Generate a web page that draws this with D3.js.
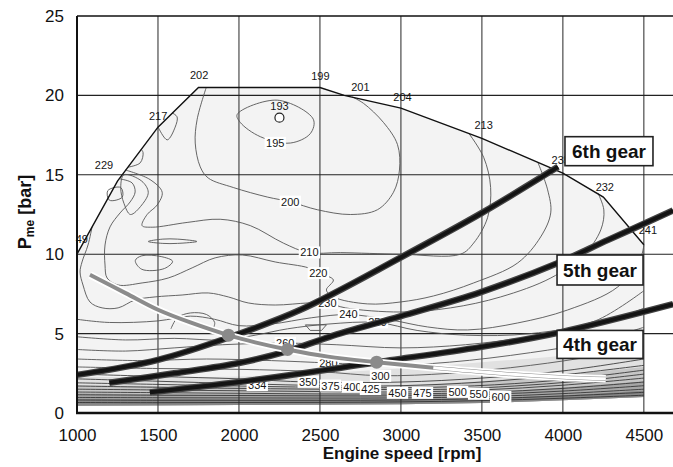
<!DOCTYPE html>
<html>
<head>
<meta charset="utf-8">
<script src="https://cdn.jsdelivr.net/npm/d3@7"></script>
<style>
  body { margin: 0; background: #fff; }
  svg { display: block; font-family: "Liberation Sans", Arial, sans-serif; }
</style>
</head>
<body>
<svg id="chart" width="673" height="467"></svg>
<script>
// ticks
const rpmTicks = [1000, 1500, 2000, 2500, 3000, 3500, 4000, 4500]
const pmeTicks = [0, 5, 10, 15, 20, 25]

// full load curve and lower edge of the measured map  [rpm, bar]
const fullLoad = [[1000,10.0],[1250,14.6],[1500,18.0],[1750,20.5],[2500,20.5],[2650,20.0],[3000,19.2],[3500,17.3],[4000,15.1],[4250,13.6],[4500,10.6]]
const mapBottom = [[1000,0.45],[2000,0.5],[3000,0.55],[3600,0.65],[4000,0.8],[4500,1.0]]

// grey shading of the low load area (upper edges)
const bandA = [[1000,2.3],[1500,2.25],[2000,2.3],[2500,2.5],[3000,2.8],[3500,3.2],[4000,3.6],[4500,4.2]]
const bandB = [[1000,1.75],[1500,1.7],[2000,1.65],[2500,1.65],[3000,1.75],[3500,2.0],[4000,2.4],[4500,2.9]]
const bandC = [[1000,1.25],[1500,1.2],[2000,1.18],[2500,1.15],[3000,1.18],[3500,1.3],[4000,1.6],[4500,2.0]]
const bandD = [[1000,0.9],[1500,0.88],[2000,0.87],[2500,0.86],[3000,0.88],[3500,0.95],[4000,1.12],[4500,1.4]]

// bsfc iso lines [rpm, bar]
const c195 = [[1989,18.8],[2237,19.7],[2459,18.5],[2441,17.6],[2317,17.0],[2132,17.4],[2008,18.3]]
const c200 = [[1798,20.5],[1742,18.5],[1730,17.0],[1761,15.5],[1810,14.8],[1965,14.2],[2175,13.6],[2317,13.3],[2484,12.8],[2688,12.5],[2855,12.8],[2954,13.9],[2991,15.3],[2979,16.9],[2892,18.3],[2769,19.5],[2700,19.9]]
const c210 = [[1300,15.3],[1451,14.7],[1526,13.9],[1495,13.1],[1433,12.5],[1402,11.8],[1464,11.7],[1680,12.0],[1884,12.2],[2070,11.8],[2274,10.7],[2428,10.1],[2626,10.1],[2997,10.0],[3368,10.0],[3449,10.7],[3535,12.3],[3554,14.2],[3511,16.1],[3420,17.6]]
const c220 = [[1266,14.74],[1340,14.49],[1359,13.92],[1328,13.29],[1266,12.6],[1204,11.72],[1173,10.58],[1173,9.32],[1186,8.5],[1254,8.06],[1402,8.19],[1563,8.5],[1711,9.14],[1853,9.77],[2020,9.95],[2224,9.51],[2429,9.14],[2490,8.82],[2583,8.38],[2540,7.75],[2583,7.31],[2793,6.87],[2997,6.99],[3201,7.37],[3449,8.19],[3721,9.45],[3863,11.09],[3925,12.6],[3906,14.05],[3845,15.8]]
const c230 = [[1093,11.72],[1068,10.58],[1031,9.51],[1019,8.88],[1037,8.06],[1080,6.99],[1155,6.62],[1254,6.62],[1359,7.12],[1482,7.31],[1649,7.43],[1810,7.56],[1934,7.31],[2057,6.93],[2224,6.8],[2429,6.93],[2546,6.93],[2657,6.62],[2997,6.36],[3307,6.62],[3616,7.31],[3925,8.5],[4129,9.95],[4234,11.53],[4253,12.79],[4216,13.86]]
const c240 = [[1000,5.9],[1200,5.7],[1500,5.8],[1700,6.1],[1850,5.9],[2000,5.5],[2200,5.6],[2450,6.0],[2676,6.2],[2936,5.86],[3164,5.42],[3412,5.23],[3721,5.67],[4030,6.49],[4339,7.94],[4482,9.83],[4500,10.6]]
const c250 = [[1000,4.8],[1300,4.6],[1600,4.7],[1900,4.6],[2100,4.9],[2300,5.3],[2550,5.6],[2855,5.7],[3100,5.2],[3400,4.9],[3800,5.0],[4200,5.8],[4500,7.7]]
const c260 = [[1000,4.0],[1300,3.9],[1600,4.1],[1900,4.3],[2286,4.4],[2600,4.3],[3000,4.1],[3400,4.3],[3800,4.8],[4200,5.5],[4500,6.6]]
const c280 = [[1000,3.4],[1400,3.3],[1800,3.4],[2200,3.3],[2552,3.15],[2900,3.0],[3300,3.2],[3800,3.8],[4200,4.5],[4500,5.4]]
const c300 = [[1000,2.9],[1500,2.8],[2000,2.75],[2500,2.6],[2874,2.35],[3300,2.5],[3800,3.0],[4200,3.6],[4500,4.2]]
const l350 = [[1000,2.45],[1500,2.3],[2000,2.15],[2428,1.95],[3000,1.95],[3500,2.2],[4000,2.65],[4500,3.4]]
const l375 = [[1000,2.15],[1500,2.0],[2000,1.85],[2565,1.72],[3000,1.72],[3500,1.95],[4000,2.4],[4500,3.0]]
const l400 = [[1000,1.9],[1500,1.8],[2000,1.7],[2700,1.6],[3200,1.62],[3700,1.85],[4100,2.2],[4500,2.7]]
const l425 = [[1000,1.7],[1500,1.62],[2000,1.55],[2812,1.48],[3300,1.5],[3700,1.7],[4100,2.0],[4500,2.45]]
const l450 = [[1000,1.5],[1500,1.45],[2000,1.4],[2500,1.35],[3000,1.32],[3500,1.45],[4000,1.75],[4500,2.2]]
const l475 = [[1000,1.32],[1500,1.28],[2000,1.24],[2500,1.2],[3000,1.2],[3500,1.3],[4000,1.55],[4500,1.95]]
const l500 = [[1000,1.15],[1500,1.12],[2000,1.1],[2500,1.08],[3000,1.08],[3500,1.17],[4000,1.38],[4500,1.72]]
const l550 = [[1000,0.98],[1500,0.96],[2000,0.95],[2500,0.94],[3000,0.95],[3500,1.03],[4000,1.22],[4500,1.5]]
const l600 = [[1000,0.82],[1500,0.8],[2000,0.8],[2500,0.8],[3000,0.82],[3500,0.9],[4000,1.07],[4500,1.3]]
const l700 = [[1000,0.66],[1500,0.65],[2000,0.66],[2500,0.67],[3000,0.7],[3500,0.78],[4000,0.93],[4500,1.12]]
// small islands and bumps
const bump229 = [[1315,15.48],[1390,15.75],[1408,16.4],[1396,16.6]]
const bump217 = [[1501,18.0],[1557,17.2],[1606,18.0],[1618,18.65],[1587,18.9]]
const loop229 = [[1290,15.0],[1400,14.6],[1440,13.9],[1400,13.1],[1330,12.5],[1290,13.2],[1270,14.2]]
const loopSmall = [[1190,14.0],[1270,14.2],[1280,13.6],[1200,13.4]]
const loopA = [[1440,10.8],[1530,10.95],[1620,10.95],[1740,10.8],[1620,10.68],[1530,10.68]]
const loopB = [[1360,9.6],[1400,9.9],[1520,9.85],[1590,9.55],[1540,9.1],[1400,9.05]]
const loopC = [[2410,5.55],[2540,5.55],[2510,5.2],[2440,5.2]]
const arcD = [[1580,5.3],[1620,6.0],[1700,6.3],[1800,6.2],[1850,5.7],[1840,5.3]]

const openLines = [c200, c210, c220, c230, c240, c250, c260, c280, c300, bump229, bump217, arcD]
const closedLines = [c195, loop229, loopSmall, loopA, loopB]
const denseLines = [l350, l375, l400, l425, l450, l475, l500, l550, l600, l700]

// iso line labels [text, rpm, bar]
const contourLabels = [
  ["195",2224,17.0],["200",2317,13.3],["210",2435,10.1],["220",2490,8.8],["230",2546,6.93],
  ["240",2676,6.2],["250",2855,5.7],["260",2286,4.4],["280",2552,3.15],["300",2874,2.33],
  ["334",2113,1.75],["350",2428,1.95],["375",2565,1.72],["400",2700,1.64],["425",2812,1.5],
  ["450",2979,1.26],["475",3133,1.26],["500",3350,1.32],["550",3480,1.2],["600",3616,1.0]
]
const fullLoadLabels = [
  ["49",1030,10.95],["229",1167,15.6],["217",1501,18.7],["202",1754,21.3],["199",2503,21.2],
  ["201",2750,20.5],["204",3010,19.9],["213",3511,18.1],["235",3987,15.9],["232",4259,14.2],["241",4525,11.5]
]
const minPoint = [2250, 18.6]
const minLabel = ["193", 2250, 19.3]

// gear lines and road load curve
const gear6 = [[1000,2.4],[1500,3.35],[1935,4.75],[2380,6.5],[3000,9.8],[3500,12.6],[3970,15.5]]
const gear5 = [[1200,1.9],[1600,2.5],[2000,3.15],[2300,3.9],[2560,4.8],[3000,6.1],[3490,7.6],[3970,9.45],[4280,10.9],[4680,12.75]]
const gear4 = [[1450,1.3],[2000,1.95],[2630,2.85],[2850,3.2],[3490,4.15],[3970,5.05],[4680,6.85]]
const powerCurve = [[1080,8.7],[1300,7.55],[1500,6.5],[1700,5.7],[1935,4.9],[2100,4.45],[2300,4.0],[2550,3.55],[2850,3.2],[3200,2.85],[3600,2.5],[4000,2.25],[4265,2.15]]
const shiftPoints = [[1935,4.9],[2300,4.0],[2850,3.2]]

const svg = d3.select('#chart')
const x = d3.scaleLinear().domain([1000, 4680]).range([77, 673])
const y = d3.scaleLinear().domain([0, 25]).range([413, 16])

const lin = d3.line().x(d => x(d[0])).y(d => y(d[1]))
const smooth = d3.line().x(d => x(d[0])).y(d => y(d[1])).curve(d3.curveCatmullRom.alpha(0.5))
const smoothClosed = d3.line().x(d => x(d[0])).y(d => y(d[1])).curve(d3.curveCatmullRomClosed.alpha(0.5))

// map fill
const bottomRev = mapBottom.slice().reverse()
svg.append('path')
  .attr('d', lin(fullLoad.concat(bottomRev)) + 'Z')
  .attr('fill', '#f3f3f3')

const bands = [[bandA, '#e1e1e1'], [bandB, '#c6c6c6'], [bandC, '#a6a6a6'], [bandD, '#888']]
bands.forEach(function (b) {
  svg.append('path')
    .attr('d', smooth(b[0]) + lin(bottomRev).replace(/^M/, 'L') + 'Z')
    .attr('fill', b[1])
})

// grid
const grid = svg.append('g')
grid.selectAll('line.v').data(rpmTicks.slice(1)).enter().append('line')
  .attr('x1', d => x(d)).attr('x2', d => x(d))
  .attr('y1', y(25)).attr('y2', y(0))
  .attr('stroke', '#3a3a3a').attr('stroke-width', 1.1)
grid.selectAll('line.h').data(pmeTicks.slice(1, -1)).enter().append('line')
  .attr('x1', x(1000)).attr('x2', 673)
  .attr('y1', d => y(d)).attr('y2', d => y(d))
  .attr('stroke', '#222').attr('stroke-width', 1.1)

// iso lines
const iso = svg.append('g').attr('fill', 'none')
iso.selectAll('path.o').data(openLines).enter().append('path')
  .attr('d', smooth).attr('stroke', '#555').attr('stroke-width', 0.9)
iso.selectAll('path.c').data(closedLines).enter().append('path')
  .attr('d', smoothClosed).attr('stroke', '#555').attr('stroke-width', 0.9)
iso.append('path').attr('d', lin(loopC) + 'Z').attr('stroke', '#555').attr('stroke-width', 0.9)
iso.selectAll('path.d').data(denseLines).enter().append('path')
  .attr('d', smooth).attr('stroke', '#2a2a2a').attr('stroke-width', 0.8)

function label(g, t, rpm, bar, boxed) {
  const txt = g.append('text')
    .attr('x', x(rpm)).attr('y', y(bar)).attr('dy', '0.35em')
    .attr('text-anchor', 'middle').attr('font-size', 11).attr('fill', '#151515')
    .text(t)
  if (boxed) {
    const b = txt.node().getBBox()
    g.insert('rect', () => txt.node())
      .attr('x', b.x - 1.5).attr('y', b.y).attr('width', b.width + 3).attr('height', b.height)
      .attr('fill', '#fff')
  }
}
const labels = svg.append('g')
contourLabels.forEach(d => label(labels, d[0], d[1], d[2], true))
label(labels, minLabel[0], minLabel[1], minLabel[2], false)
svg.append('circle')
  .attr('cx', x(minPoint[0])).attr('cy', y(minPoint[1])).attr('r', 4.5)
  .attr('fill', '#fff').attr('stroke', '#222').attr('stroke-width', 1.2)

// full load line
svg.append('path').attr('d', lin(fullLoad))
  .attr('fill', 'none').attr('stroke', '#111').attr('stroke-width', 1.4)
fullLoadLabels.forEach(d => label(labels, d[0], d[1], d[2], false))

// gear lines
const gears = svg.append('g').attr('fill', 'none')
gears.selectAll('path.halo').data([gear6, gear5, gear4]).enter().append('path')
  .attr('d', smooth).attr('stroke', '#444').attr('stroke-width', 6.5)
gears.selectAll('path.core').data([gear6, gear5, gear4]).enter().append('path')
  .attr('d', smooth).attr('stroke', '#141414').attr('stroke-width', 4)

// road load / constant power curve
svg.append('path').attr('d', smooth(powerCurve))
  .attr('fill', 'none').attr('stroke', '#fff').attr('stroke-width', 7.5)
svg.append('path').attr('d', smooth(powerCurve))
  .attr('fill', 'none').attr('stroke', '#8c8c8c').attr('stroke-width', 4)
svg.append('path').attr('d', smooth(powerCurve.filter(d => d[0] >= 3000)))
  .attr('fill', 'none').attr('stroke', '#fff').attr('stroke-width', 3)
svg.selectAll('circle.sp').data(shiftPoints).enter().append('circle')
  .attr('cx', d => x(d[0])).attr('cy', d => y(d[1])).attr('r', 6.5)
  .attr('fill', '#8a8a8a')

// gear boxes
const boxes = [["6th gear", 4013, 17.4, 88, 29], ["5th gear", 3964, 9.95, 86, 30], ["4th gear", 3964, 5.2, 86, 28]]
boxes.forEach(function (b) {
  const g = svg.append('g').attr('transform', `translate(${x(b[1])},${y(b[2])})`)
  g.append('rect').attr('width', b[3]).attr('height', b[4])
    .attr('fill', '#fff').attr('stroke', '#222').attr('stroke-width', 1.6)
  g.append('text').attr('x', b[3] / 2).attr('y', b[4] / 2).attr('dy', '0.36em')
    .attr('text-anchor', 'middle').attr('font-size', 19).attr('font-weight', 'bold')
    .attr('fill', '#111').text(b[0])
})

// frame
svg.append('line').attr('x1', x(1000)).attr('x2', 673).attr('y1', y(25)).attr('y2', y(25))
  .attr('stroke', '#111').attr('stroke-width', 1.5)
svg.append('line').attr('x1', x(1000)).attr('x2', x(1000)).attr('y1', y(25)).attr('y2', y(0))
  .attr('stroke', '#111').attr('stroke-width', 2)
svg.append('line').attr('x1', x(1000) - 1).attr('x2', 673).attr('y1', y(0)).attr('y2', y(0))
  .attr('stroke', '#111').attr('stroke-width', 2.6)

// axes
const xAxis = svg.append('g').attr('transform', `translate(0,${y(0)})`)
  .call(d3.axisBottom(x).tickValues(rpmTicks).tickFormat(d3.format('d')).tickSize(0).tickPadding(16))
xAxis.select('.domain').remove()
xAxis.selectAll('text').attr('font-size', 17).attr('font-family', '"Liberation Sans", Arial, sans-serif').attr('fill', '#111')

const yAxis = svg.append('g').attr('transform', `translate(${x(1000)},0)`)
  .call(d3.axisLeft(y).tickValues(pmeTicks).tickFormat(d3.format('d')).tickSize(0).tickPadding(13))
yAxis.select('.domain').remove()
yAxis.selectAll('text').attr('font-size', 17).attr('font-family', '"Liberation Sans", Arial, sans-serif').attr('fill', '#111')

svg.append('text').attr('x', 402).attr('y', 459).attr('text-anchor', 'middle')
  .attr('font-size', 17).attr('font-weight', 'bold').attr('fill', '#111')
  .text('Engine speed [rpm]')

const yt = svg.append('text').attr('transform', 'translate(31,212) rotate(-90)')
  .attr('text-anchor', 'middle').attr('font-size', 18).attr('font-weight', 'bold').attr('fill', '#111')
yt.append('tspan').text('P')
yt.append('tspan').attr('font-size', 12).attr('dy', 3).text('me')
yt.append('tspan').attr('dy', -3).text(' [bar]')
</script>
</body>
</html>
